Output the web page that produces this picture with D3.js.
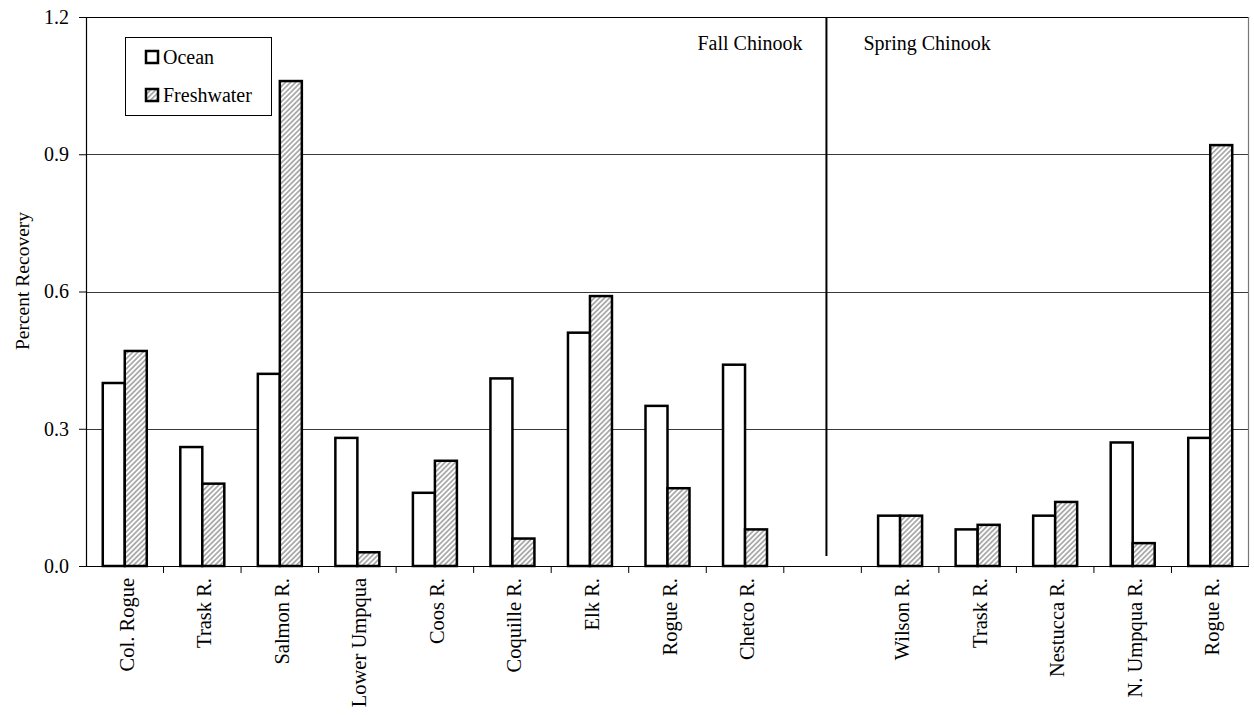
<!DOCTYPE html>
<html>
<head>
<meta charset="utf-8">
<script src="https://cdn.jsdelivr.net/npm/d3@7"></script>
<style>
  html, body { margin: 0; padding: 0; background: #fff; }
  svg { display: block; }
  svg text { font-family: "Liberation Serif", "Times New Roman", "DejaVu Serif", serif !important; fill: #000; }
</style>
</head>
<body>
<svg id="chart" width="1254" height="715"></svg>
<script>
// Release groups: nine fall chinook stocks, a spacer slot, five spring chinook stocks
const categories = ["Col. Rogue", "Trask R.", "Salmon R.", "Lower Umpqua", "Coos R.", "Coquille R.",
                    "Elk R.", "Rogue R.", "Chetco R.", "",
                    "Wilson R.", "Trask R.", "Nestucca R.", "N. Umpqua R.", "Rogue R."];
const oceanValues = [0.40, 0.26, 0.42, 0.28, 0.16, 0.41, 0.51, 0.35, 0.44, null,
                     0.11, 0.08, 0.11, 0.27, 0.28];
const freshwaterValues = [0.47, 0.18, 1.06, 0.03, 0.23, 0.06, 0.59, 0.17, 0.08, null,
                          0.11, 0.09, 0.14, 0.05, 0.92];
const seriesNames = ["Ocean", "Freshwater"];
const yTicks = [0.0, 0.3, 0.6, 0.9, 1.2];
const groupLabels = ["Fall Chinook", "Spring Chinook"];
const gapIndex = 9;

const svg = d3.select("#chart");
const margin = { left: 86, right: 1249, top: 17, bottom: 566 };

const x = d3.scaleBand()
  .domain(d3.range(categories.length))
  .range([margin.left, margin.right])
  .padding(0);

const y = d3.scaleLinear().domain([0, 1.2]).range([margin.bottom, margin.top]);

// hatch fill for the freshwater series
const defs = svg.append("defs");
const pat = defs.append("pattern")
  .attr("id", "hatch")
  .attr("patternUnits", "userSpaceOnUse")
  .attr("width", 3.6).attr("height", 3.6)
  .attr("patternTransform", "rotate(45)");
pat.append("rect").attr("width", 3.6).attr("height", 3.6).attr("fill", "#fff");
pat.append("line").attr("x1", 0.9).attr("y1", 0).attr("x2", 0.9).attr("y2", 3.6)
  .attr("stroke", "#8a8a8a").attr("stroke-width", 1.3);

// gridlines
svg.append("g")
  .selectAll("line")
  .data(yTicks.filter(t => t > 0 && t < 1.2))
  .join("line")
  .attr("x1", margin.left).attr("x2", margin.right)
  .attr("y1", d => Math.round(y(d)) + 0.5).attr("y2", d => Math.round(y(d)) + 0.5)
  .attr("stroke", "#3a3a3a").attr("stroke-width", 1);

// frame: top and right borders
svg.append("line")
  .attr("x1", margin.left).attr("x2", margin.right)
  .attr("y1", margin.top + 0.5).attr("y2", margin.top + 0.5)
  .attr("stroke", "#000").attr("stroke-width", 1.2);
svg.append("line")
  .attr("x1", margin.right - 0.5).attr("x2", margin.right - 0.5)
  .attr("y1", margin.top).attr("y2", margin.bottom)
  .attr("stroke", "#777").attr("stroke-width", 1.2);

// group divider
const divX = x(gapIndex) + x.bandwidth() * 0.55;
svg.append("line")
  .attr("x1", divX).attr("x2", divX)
  .attr("y1", margin.top).attr("y2", y(0.022))
  .attr("stroke", "#000").attr("stroke-width", 2);

svg.append("text")
  .attr("x", divX - 24).attr("y", 50)
  .attr("text-anchor", "end")
  .attr("font-size", 20)
  .text(groupLabels[0]);
svg.append("text")
  .attr("x", divX + 37).attr("y", 50)
  .attr("text-anchor", "start")
  .attr("font-size", 20)
  .text(groupLabels[1]);

// bars
const barW = 22;
const barsG = svg.append("g");
const rows = categories.map((c, i) => ({ i, c, o: oceanValues[i], f: freshwaterValues[i] }))
  .filter(d => d.o !== null);

barsG.selectAll("rect.ocean")
  .data(rows)
  .join("rect")
  .attr("class", "ocean")
  .attr("x", d => x(d.i) + x.bandwidth() / 2 - barW)
  .attr("y", d => y(d.o))
  .attr("width", barW)
  .attr("height", d => y(0) - y(d.o))
  .attr("fill", "#fff")
  .attr("stroke", "#000").attr("stroke-width", 2.5);

barsG.selectAll("rect.fresh")
  .data(rows)
  .join("rect")
  .attr("class", "fresh")
  .attr("x", d => x(d.i) + x.bandwidth() / 2)
  .attr("y", d => y(d.f))
  .attr("width", barW)
  .attr("height", d => y(0) - y(d.f))
  .attr("fill", "url(#hatch)")
  .attr("stroke", "#000").attr("stroke-width", 2.5);

// y axis
const yAxis = d3.axisLeft(y)
  .tickValues(yTicks)
  .tickFormat(d3.format(".1f"))
  .tickSize(7)
  .tickPadding(10);
const yg = svg.append("g")
  .attr("transform", `translate(${margin.left},0)`)
  .call(yAxis)
  .attr("font-family", null)
  .attr("font-size", 20);
yg.select(".domain").attr("stroke", "#000").attr("stroke-width", 1.2);
yg.selectAll(".tick line").attr("stroke", "#000");
yg.selectAll(".tick text").attr("font-size", 20);

// x axis: ticks at slot boundaries
const xg = svg.append("g");
xg.append("line")
  .attr("x1", margin.left).attr("x2", margin.right)
  .attr("y1", margin.bottom + 0.5).attr("y2", margin.bottom + 0.5)
  .attr("stroke", "#000").attr("stroke-width", 1.2);
xg.selectAll("line.tick")
  .data(d3.range(1, categories.length))
  .join("line")
  .attr("class", "tick")
  .attr("x1", i => x(i)).attr("x2", i => x(i))
  .attr("y1", margin.bottom).attr("y2", margin.bottom + 7)
  .attr("stroke", "#000").attr("stroke-width", 1);

xg.selectAll("text")
  .data(categories.map((c, i) => ({ c, i })).filter(d => d.c !== ""))
  .join("text")
  .attr("transform", d => `translate(${x(d.i) + x.bandwidth() / 2 + 2},${margin.bottom + 12}) rotate(-90)`)
  .attr("text-anchor", "end")
  .attr("dominant-baseline", "central")
  .attr("font-size", 20.5)
  .text(d => d.c);

// y axis title
svg.append("text")
  .attr("transform", "translate(22,281) rotate(-90)")
  .attr("text-anchor", "middle")
  .attr("dominant-baseline", "central")
  .attr("font-size", 19.5)
  .text("Percent Recovery");

// legend
const lg = svg.append("g");
lg.append("rect")
  .attr("x", 125.5).attr("y", 37.5)
  .attr("width", 146).attr("height", 78)
  .attr("fill", "#fff").attr("stroke", "#000").attr("stroke-width", 1);
const legendItems = [
  { name: seriesNames[0], fill: "#fff", y: 51 },
  { name: seriesNames[1], fill: "url(#hatch)", y: 89 }
];
lg.selectAll("rect.key")
  .data(legendItems)
  .join("rect")
  .attr("class", "key")
  .attr("x", 146).attr("y", d => d.y)
  .attr("width", 12).attr("height", 12)
  .attr("fill", d => d.fill)
  .attr("stroke", "#000").attr("stroke-width", 2.5);
lg.selectAll("text")
  .data(legendItems)
  .join("text")
  .attr("x", 163).attr("y", d => d.y + 13)
  .attr("font-size", 20)
  .text(d => d.name);
</script>
</body>
</html>
